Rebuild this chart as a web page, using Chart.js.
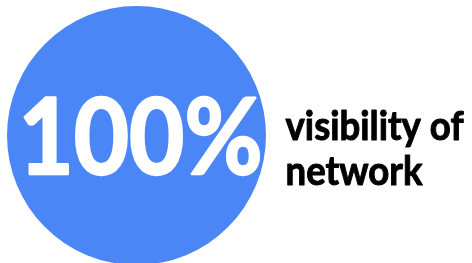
<!DOCTYPE html>
<html>
<head>
<meta charset="utf-8">
<script src="https://cdn.jsdelivr.net/npm/chart.js@4"></script>
<style>
  html, body { margin: 0; padding: 0; background: #fff; overflow: hidden; }
  #wrap { width: 472px; height: 266px; }
</style>
</head>
<body>
<div id="wrap"><canvas id="visChart"></canvas></div>
<script>
const labels = ['visibility of network'];
const values = [100];
const colors = ['#4a86f5'];

// draws the big percentage inside the circle and the caption on the right
const textPlugin = {
  id: 'textPlugin',
  afterDraw(chart) {
    const c = chart.ctx;
    const arc = chart.getDatasetMeta(0).data[0];
    c.save();
    c.textBaseline = 'alphabetic';
    c.textAlign = 'left';
    c.lineJoin = 'round';

    // big number
    const big = values[0] + '%';
    c.font = 'bold 106px Lato';
    let w = c.measureText(big).width;
    c.fillStyle = '#ffffff';
    c.strokeStyle = '#ffffff';
    c.lineWidth = 2.5;
    c.save();
    c.translate(arc.x - 118, 174);
    c.scale(244 / w, 1);
    c.fillText(big, 0, 0);
    c.strokeText(big, 0, 0);
    c.restore();

    // caption
    c.fillStyle = '#000000';
    c.strokeStyle = '#000000';
    c.lineWidth = 1;
    c.font = 'bold 40px Lato';
    const lines = ['visibility of', 'network'];
    const sx = 178 / c.measureText(lines[0]).width;
    lines.forEach((line, i) => {
      c.save();
      c.translate(285.5, 140 + i * 45);
      c.scale(sx, 1);
      c.fillText(line, 0, 0);
      c.strokeText(line, 0, 0);
      c.restore();
    });
    c.restore();
  }
};

const ctx = document.getElementById('visChart').getContext('2d');

const visChart = new Chart(ctx, {
  type: 'pie',
  data: {
    labels: labels,
    datasets: [{
      data: values,
      backgroundColor: colors,
      borderWidth: 0,
      hoverOffset: 0
    }]
  },
  options: {
    responsive: true,
    maintainAspectRatio: false,
    animation: false,
    events: [],
    layout: {
      padding: { left: 7, right: 206, top: 6, bottom: 1 }
    },
    plugins: {
      legend: { display: false },
      tooltip: { enabled: false }
    }
  },
  plugins: [textPlugin]
});
</script>
</body>
</html>
